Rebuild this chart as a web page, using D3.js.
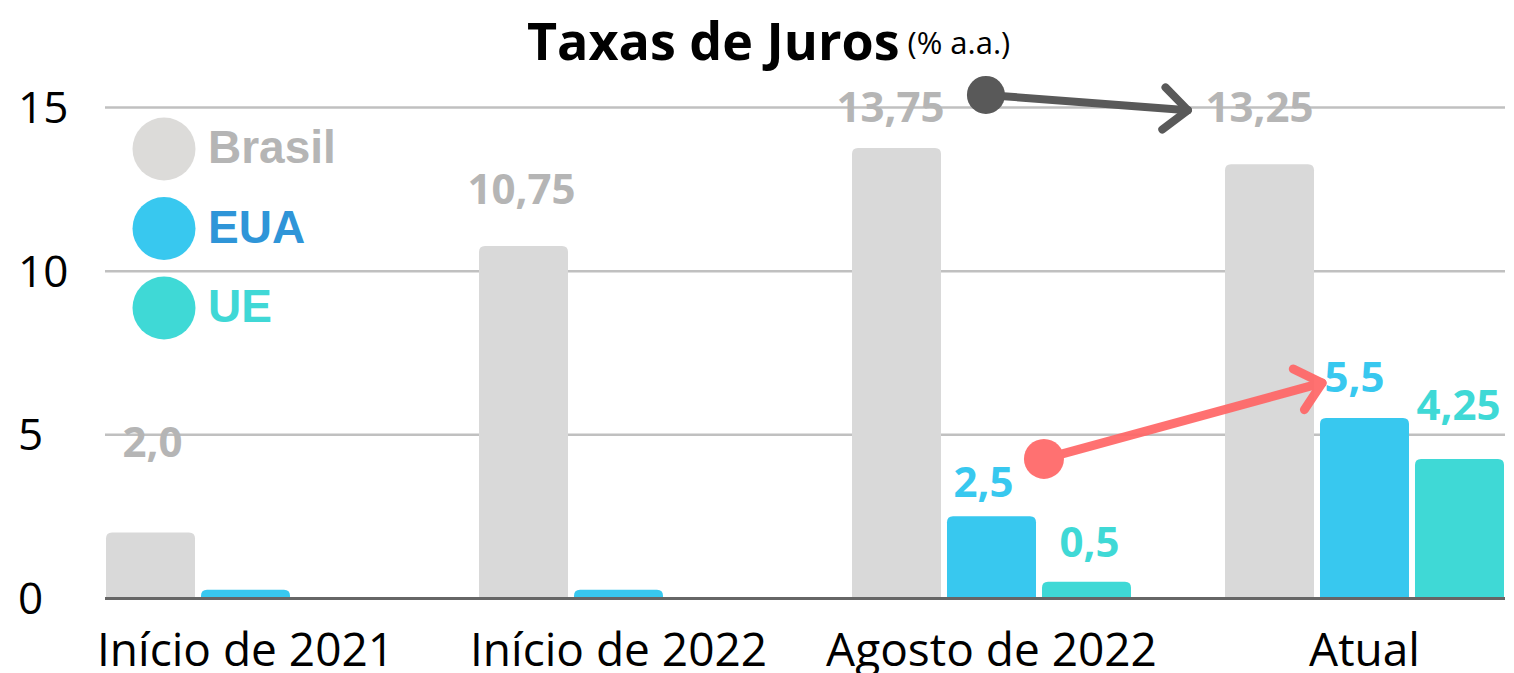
<!DOCTYPE html>
<html>
<head>
<meta charset="utf-8">
<script src="https://cdn.jsdelivr.net/npm/d3@7"></script>
<style>
  body { margin: 0; background: #fff; }
  svg { display: block; }
  .tick line { stroke: #c0c0c0; stroke-width: 2.5; }
  .domain { display: none; }
</style>
</head>
<body>
<div id="chart"></div>
<script>
// dados
let categories = ["Início de 2021", "Início de 2022", "Agosto de 2022", "Atual"];
let seriesNames = ["Brasil", "EUA", "UE"];
let brasil = [2.0, 10.75, 13.75, 13.25];
let eua = [0.25, 0.25, 2.5, 5.5];
let ue = [0, 0, 0.5, 4.25];
let labelsBrasil = ["2,0", "10,75", "13,75", "13,25"];
let labelsEua = [null, null, "2,5", "5,5"];
let labelsUe = [null, null, "0,5", "4,25"];
let yTicks = [0, 5, 10, 15];

let width = 1514,
    height = 673;

let colors = {Brasil: "#d9d9d9", EUA: "#38c8ef", UE: "#3fd9d6"};
let textColors = {Brasil: "#b5b5b5", EUA: "#38c8ef", UE: "#3fd9d6"};
let legendText = {Brasil: "#b5b5b5", EUA: "#2f95d8", UE: "#40d8d6"};
let legendDot = {Brasil: "#dcdbd9", EUA: "#38c8ef", UE: "#3fd9d6"};

let font = "'Open Sans', 'Noto Sans', sans-serif";

let svg = d3.select("#chart")
    .append("svg")
    .attr("width", width)
    .attr("height", height);

let x0 = d3.scaleBand()
    .domain(categories)
    .range([106, 1504])
    .paddingInner(0.252)
    .paddingOuter(0);

let x1 = d3.scaleBand()
    .domain(seriesNames)
    .range([0, x0.bandwidth()])
    .paddingInner(0.063);

let y = d3.scaleLinear()
    .domain([0, 15])
    .range([598, 107]);

// grade
let yAxis = d3.axisLeft(y)
    .tickValues(yTicks)
    .tickSize(-1400)
    .tickPadding(0);

let gy = svg.append("g")
    .attr("transform", "translate(105,0)")
    .call(yAxis);

gy.selectAll("text")
    .attr("x", -87)
    .attr("dy", "0.35em")
    .style("text-anchor", "start")
    .style("font-family", font)
    .style("font-size", "44px")
    .style("fill", "#000");

gy.selectAll(".tick").filter(d => d === 0).select("line").remove();

let xAxis = d3.axisBottom(x0).tickSize(0).tickPadding(0);
let gx = svg.append("g")
    .attr("transform", "translate(0,598)")
    .call(xAxis);

gx.selectAll("text")
    .attr("y", 68)
    .attr("dy", 0)
    .style("font-family", font)
    .style("font-size", "46px")
    .style("fill", "#000");

function topRounded(x, y0, w, h, r) {
    r = Math.min(r, h, w / 2);
    return "M" + x + "," + (y0 + h) +
        "V" + (y0 + r) +
        "Q" + x + "," + y0 + " " + (x + r) + "," + y0 +
        "H" + (x + w - r) +
        "Q" + (x + w) + "," + y0 + " " + (x + w) + "," + (y0 + r) +
        "V" + (y0 + h) + "Z";
}

let rows = categories.map((c, i) => ({
    cat: c,
    values: [
        {key: "Brasil", value: brasil[i], label: labelsBrasil[i]},
        {key: "EUA", value: eua[i], label: labelsEua[i]},
        {key: "UE", value: ue[i], label: labelsUe[i]}
    ]
}));

let groups = svg.append("g")
    .selectAll("g")
    .data(rows)
    .enter().append("g")
    .attr("transform", d => "translate(" + x0(d.cat) + ",0)");

groups.selectAll("path")
    .data(d => d.values.filter(v => v.value > 0))
    .enter().append("path")
    .attr("fill", d => colors[d.key])
    .attr("d", d => topRounded(x1(d.key), y(d.value), x1.bandwidth(), y(0) - y(d.value), 6));

// linha de base
svg.append("line")
    .attr("x1", 105).attr("x2", 1505)
    .attr("y1", 598.5).attr("y2", 598.5)
    .attr("stroke", "#666")
    .attr("stroke-width", 3);

// rótulos (ajustes à mão como no original)
let nudge = {
    "Brasil|Início de 2021": [2, 76], "Brasil|Início de 2022": [-2, 42],
    "Brasil|Agosto de 2022": [-6, 26], "Brasil|Atual": [-10, 42],
    "EUA|Agosto de 2022": [-8, 19], "EUA|Atual": [-10, 26],
    "UE|Agosto de 2022": [3, 25], "UE|Atual": [-1, 39]
};

groups.selectAll("text.val")
    .data(d => d.values.filter(v => v.label).map(v => Object.assign({cat: d.cat}, v)))
    .enter().append("text")
    .attr("class", "val")
    .attr("x", d => x1(d.key) + x1.bandwidth() / 2 + (nudge[d.key + "|" + d.cat] || [0, 30])[0])
    .attr("y", d => y(d.value) - (nudge[d.key + "|" + d.cat] || [0, 30])[1])
    .attr("text-anchor", "middle")
    .style("font-family", font)
    .style("font-weight", "bold")
    .style("font-size", "42px")
    .style("fill", d => textColors[d.key])
    .text(d => d.label);

// legenda
let legend = svg.append("g")
    .selectAll("g")
    .data(seriesNames)
    .enter().append("g")
    .attr("transform", (d, i) => "translate(164," + (149 + i * 79.5) + ")");

legend.append("circle")
    .attr("r", 31.5)
    .attr("fill", d => legendDot[d]);

legend.append("text")
    .attr("x", 44)
    .attr("y", 14)
    .style("font-family", "'Liberation Sans', Arial, sans-serif")
    .style("font-weight", "bold")
    .style("font-size", "46px")
    .style("fill", d => legendText[d])
    .text(d => d);

// setas
function arrow(from, to, color, sw, r, opacity) {
    let ax = x0(from[0]) + from[1] * x0.bandwidth(), ay = y(from[2]);
    let bx = x0(to[0]) + to[1] * x0.bandwidth(), by = y(to[2]);
    let ang = Math.atan2(by - ay, bx - ax);
    let len = 32, spread = 0.72;
    let g = svg.append("g").attr("opacity", opacity);
    g.append("line")
        .attr("x1", ax).attr("y1", ay).attr("x2", bx).attr("y2", by)
        .attr("stroke", color).attr("stroke-width", sw).attr("stroke-linecap", "round");
    g.append("path")
        .attr("d", "M" + (bx - len * Math.cos(ang - spread)) + "," + (by - len * Math.sin(ang - spread)) +
            "L" + bx + "," + by +
            "L" + (bx - len * Math.cos(ang + spread)) + "," + (by - len * Math.sin(ang + spread)))
        .attr("fill", "none")
        .attr("stroke", color).attr("stroke-width", sw)
        .attr("stroke-linecap", "round").attr("stroke-linejoin", "round");
    g.append("circle")
        .attr("cx", ax).attr("cy", ay).attr("r", r)
        .attr("fill", color);
}

arrow(["Agosto de 2022", 0.48, 15.37], ["Atual", -0.133, 14.9], "#595959", 8, 19, 1);
arrow(["Agosto de 2022", 0.688, 4.25], ["Atual", 0.348, 6.57], "#ff6666", 9, 20, 0.92);

// título
let title = svg.append("text")
    .attr("x", 527)
    .attr("y", 60)
    .style("font-family", font);

title.append("tspan")
    .style("font-weight", "bold")
    .style("font-size", "52px")
    .style("fill", "#000")
    .text("Taxas de Juros");

title.append("tspan")
    .attr("dx", 8)
    .attr("dy", -6)
    .style("font-size", "31px")
    .style("fill", "#000")
    .text("(% a.a.)");
</script>
</body>
</html>
